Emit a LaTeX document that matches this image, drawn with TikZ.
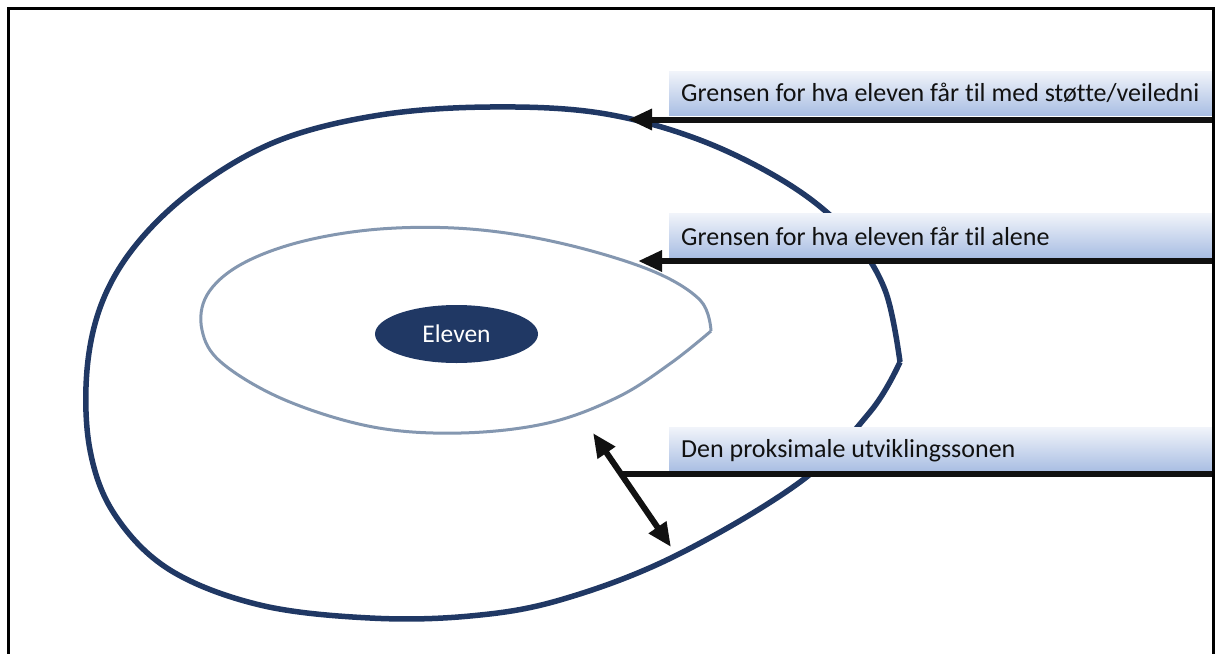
\documentclass[tikz,border=0pt]{standalone}
\usepackage{fontspec}
\setmainfont[Ligatures={NoCommon}]{Carlito}
\usetikzlibrary{arrows.meta,shapes.geometric,calc}
\definecolor{navy}{HTML}{203864}
\definecolor{innerc}{HTML}{8497B0}
\definecolor{boxtop}{HTML}{F1F4FA}
\definecolor{boxbot}{HTML}{A9BEE3}
\definecolor{ink}{HTML}{111111}
\begin{document}
\begin{tikzpicture}[x=1pt,y=-1pt,
  outerloop/.style={draw=navy, line width=5.5pt, line join=round},
  innerloop/.style={draw=innerc, line width=3pt, line join=round},
  lblbox/.style={draw=none, top color=boxtop, bottom color=boxbot, minimum width=560pt, minimum height=44pt, anchor=north west, inner sep=0pt},
  lbltext/.style={anchor=base west, font=\fontsize{26}{30}\selectfont, text=ink, inner sep=0pt},
  conn/.style={draw=ink, line width=6pt},
  headtip/.tip={Triangle[length=24pt,width=20pt]},
  elevenbox/.style={ellipse, fill=navy, draw=none, minimum width=163pt, minimum height=58pt, text=white, font=\fontsize{25.5}{29}\selectfont, inner sep=0pt}
]
\useasboundingbox (0,0) rectangle (1217,653);
\fill[white] (0,0) rectangle (1217,653);
\begin{scope}
\clip (0,0) rectangle (1212,653);
% outer loop: the limit of what the pupil manages with support
\draw[outerloop] plot[smooth, tension=0.6] coordinates {
  (900,362) (885,290) (850,235) (790,185) (700,140) (600,113) (490,107)
  (380,115) (280,140) (200,185) (140,240) (103,300) (87,370) (90,450)
  (115,515) (170,570) (260,605) (370,618) (470,616) (560,600) (673,557)
  (800,482) (870,412) (900,362)};
% inner loop: the limit of what the pupil manages alone
\draw[innerloop] plot[smooth, tension=0.6] coordinates {
  (711,331) (700,300) (650,270) (560,243) (470,229) (380,229) (300,242)
  (240,265) (207,295) (202,330) (222,363) (285,400) (373,427) (461,433)
  (548,423) (618,397) (671,363) (711,331)};
\node[elevenbox] (eleven) at (456.5,334) {Eleven};

% label boxes
\node[lblbox] (b1) at (669,71) {};
\node[lbltext] (t1) at (681,101.5) {Grensen for hva eleven får til med støtte/veiledni};
\node[lblbox] (b2) at (669,213) {};
\node[lbltext] (t2) at (681,245) {Grensen for hva eleven får til alene};
\node[lblbox] (b3) at (669,427) {};
\node[lbltext] (t3) at (681,457.5) {Den proksimale utviklingssonen};

% connectors
\coordinate (r1) at (1217,119.5);
\coordinate (p1) at (628,119.5);
\coordinate (r2) at (1217,261);
\coordinate (p2) at (638,261);
\coordinate (d1) at (593,433);
\coordinate (d2) at (671,547);
\coordinate (c3) at ($(d1)!0.35!(d2)$);
\coordinate (r3) at (1217,473.5);
\draw[conn, -headtip] (r1) -- (p1);
\draw[conn, -headtip] (r2) -- (p2);
\draw[conn, headtip-headtip] (d1) -- (d2);
\draw[conn] (r3) -- (c3 |- r3);
\end{scope}
% frame
\draw[black, line width=2.7pt] (8.7,660) -- (8.7,8.7) -- (1213.6,8.7) -- (1213.6,660);
\end{tikzpicture}
\end{document}
